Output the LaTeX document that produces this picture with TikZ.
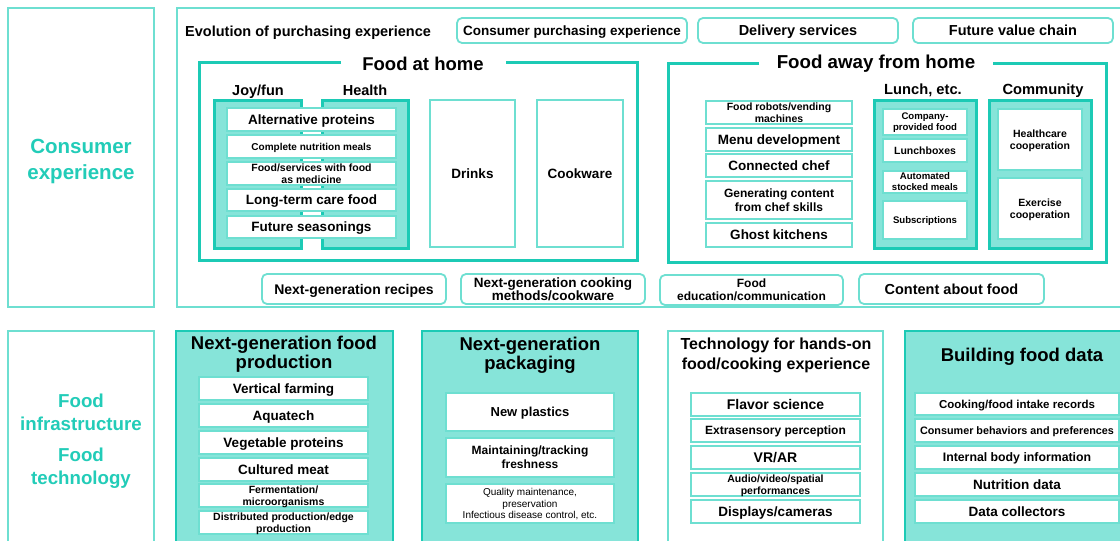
\documentclass[tikz,border=0pt]{standalone}
\usepackage{fontspec}
\setmainfont{Liberation Sans}
\definecolor{lt}{HTML}{6EDFD1}
\definecolor{dk}{HTML}{1CCAB5}
\definecolor{fl}{HTML}{86E4D9}
\definecolor{tx}{HTML}{22CCB8}
\newcommand\fz[2]{\fontsize{#1}{#2}\selectfont}
\newcommand\bx[9]{\node[#2,font=\fz{#3}{#4},minimum width={#7-#5},minimum height={#8-#6}] (#1) at ({(#5+#7)/2},{(#6+#8)/2}) {#9};}
\newcommand\lb[6]{\node[lbl,#2,font=\fz{#3}{#4}] (#1) at #5 {#6};}
\begin{document}
\bfseries
\begin{tikzpicture}[x=1pt,y=-1pt,
 wb/.style={draw=lt, line width=1.3pt, fill=white, inner sep=0pt, align=center, text depth=0pt},
 rb/.style={draw=lt, line width=1.8pt, rounded corners=5pt, fill=white, inner sep=0pt, align=center, text depth=0pt},
 pnl/.style={draw=dk, line width=3pt, fill=fl},
 bpnl/.style={draw=dk, line width=2.2pt, fill=fl},
 frm/.style={draw=dk, line width=3pt},
 outer/.style={draw=lt, line width=1.3pt},
 lbl/.style={inner sep=0pt, align=center, text depth=0pt},
]
\useasboundingbox (0,0) rectangle (1120,541);
\fill[white] (0,0) rectangle (1120,541);

% ---------- Consumer experience row ----------
\draw[outer] (8,8) rectangle (154,307);
\lb{ce}{text=tx}{20.5}{26}{(81,159)}{Consumer\\experience}
\draw[outer] (177,8) rectangle (1130,307);

\lb{evo}{anchor=west}{14.5}{16}{(185,31)}{Evolution of purchasing experience}
\bx{cpe}{rb}{13.5}{15}{457}{18}{687}{43}{Consumer purchasing experience}
\bx{del}{rb}{14.5}{16}{698}{18}{898}{43}{Delivery services}
\bx{fvc}{rb}{14.5}{16}{913}{18}{1113}{43}{Future value chain}

% Food at home
\lb{fah}{}{18.5}{20}{(423,64)}{Food at home}
\draw[frm] (341,62) -- (199,62) -- (199,260) -- (637,260) -- (637,62) -- (506,62);
\lb{joy}{}{14.5}{16}{(258,90)}{Joy/fun}
\lb{hea}{}{14.5}{16}{(365,90)}{Health}
\draw[pnl] (214,100) rectangle (301,248);
\draw[pnl] (322,100) rectangle (408,248);
\bx{ap}{wb}{13.5}{15}{227}{108}{396}{131}{Alternative proteins}
\bx{cnm}{wb}{10}{11}{227}{135}{396}{158}{Complete nutrition meals}
\bx{fsm}{wb}{10.5}{12}{227}{162}{396}{185}{Food/services with food\\as medicine}
\bx{ltc}{wb}{13.5}{15}{227}{189}{396}{211}{Long-term care food}
\bx{fse}{wb}{13.5}{15}{227}{216}{396}{238}{Future seasonings}
\bx{dr}{wb}{13.5}{15}{430}{100}{515}{247}{Drinks}
\bx{ck}{wb}{13.5}{15}{537}{100}{623}{247}{Cookware}

% Food away from home
\lb{faw}{}{18.7}{20}{(876,62)}{Food away from home}
\draw[frm] (759,63) -- (668,63) -- (668,262) -- (1106,262) -- (1106,63) -- (993,63);
\bx{frv}{wb}{10.5}{11.5}{706}{101}{852}{124}{Food robots/vending\\machines}
\bx{md}{wb}{13.5}{15}{706}{128}{852}{151}{Menu development}
\bx{cch}{wb}{13.5}{15}{706}{154}{852}{177}{Connected chef}
\bx{gcs}{wb}{12}{14}{706}{181}{852}{219}{Generating content\\from chef skills}
\bx{gk}{wb}{13.5}{15}{706}{223}{852}{247}{Ghost kitchens}

\lb{lun}{}{14.7}{16}{(923,89)}{Lunch, etc.}
\draw[pnl] (874,100) rectangle (976,248);
\bx{cpf}{wb}{9.6}{11}{883}{109}{967}{135}{Company-\\provided food}
\bx{lbx}{wb}{10.5}{12}{883}{139}{967}{162}{Lunchboxes}
\bx{asm}{wb}{9.6}{11}{883}{171}{967}{193}{Automated\\stocked meals}
\bx{sub}{wb}{9.6}{11}{883}{201}{967}{239}{Subscriptions}

\lb{com}{}{14.7}{16}{(1043,89)}{Community}
\draw[pnl] (989,100) rectangle (1091,248);
\bx{hc}{wb}{10.5}{12.5}{998}{109}{1082}{170}{Healthcare\\cooperation}
\bx{ec}{wb}{10.5}{12.5}{998}{178}{1082}{239}{Exercise\\cooperation}

% bottom rounded boxes
\bx{ngr}{rb}{14}{15}{262}{274}{446}{304}{Next-generation recipes}
\bx{ngc}{rb}{13.5}{13}{461}{274}{645}{304}{Next-generation cooking\\methods/cookware}
\bx{fec}{rb}{12}{13}{660}{275}{843}{305}{Food\\education/communication}
\bx{caf}{rb}{14.5}{16}{859}{274}{1044}{304}{Content about food}

% ---------- Food infrastructure row ----------
\draw[outer] (8,331) rectangle (154,560);
\lb{fin}{text=tx}{18.7}{23}{(81,412.5)}{Food\\infrastructure}
\lb{fte}{text=tx}{18.7}{23}{(81,466.5)}{Food\\technology}

% production
\draw[bpnl] (176,331) rectangle (393,560);
\lb{ngp}{}{18.5}{19}{(284,352.5)}{Next-generation food\\production}
\bx{vf}{wb}{13.5}{15}{199}{377}{368}{400}{Vertical farming}
\bx{aq}{wb}{13.5}{15}{199}{404}{368}{427}{Aquatech}
\bx{vp}{wb}{13.5}{15}{199}{431}{368}{454}{Vegetable proteins}
\bx{cm}{wb}{13.5}{15}{199}{458}{368}{481}{Cultured meat}
\bx{fm}{wb}{10.5}{11.5}{199}{484}{368}{507}{Fermentation/\\microorganisms}
\bx{dp}{wb}{10.5}{11.5}{199}{511}{368}{534}{Distributed production/edge\\production}

% packaging
\draw[bpnl] (422,331) rectangle (638,560);
\lb{ngk}{}{18.5}{19}{(530,353.5)}{Next-generation\\packaging}
\bx{np}{wb}{13}{15}{446}{393}{614}{431}{New plastics}
\bx{mtf}{wb}{12}{14}{446}{438}{614}{477}{Maintaining/tracking\\freshness}
\bx{qm}{wb}{10}{11.5}{446}{484}{614}{523}{\mdseries Quality maintenance,\\\mdseries preservation\\\mdseries Infectious disease control, etc.}

% technology
\draw[outer] (668,331) rectangle (883,560);
\lb{tho}{}{16}{20}{(776,354)}{Technology for hands-on\\food/cooking experience}
\bx{fsc}{wb}{14}{15}{691}{393}{860}{416}{Flavor science}
\bx{ep}{wb}{12}{14}{691}{419}{860}{442}{Extrasensory perception}
\bx{vr}{wb}{14}{15}{691}{446}{860}{469}{VR/AR}
\bx{avs}{wb}{10.5}{11.5}{691}{473}{860}{496}{Audio/video/spatial\\performances}
\bx{dc}{wb}{13.5}{15}{691}{500}{860}{523}{Displays/cameras}

% food data
\draw[bpnl] (905,331) rectangle (1130,560);
\lb{bfd}{}{18.5}{20}{(1022,355)}{Building food data}
\bx{cfi}{wb}{11.5}{13}{915}{393}{1119}{415}{Cooking/food intake records}
\bx{cbp}{wb}{10.8}{12}{915}{419}{1119}{442}{Consumer behaviors and preferences}
\bx{ibi}{wb}{12.3}{14}{915}{446}{1119}{469}{Internal body information}
\bx{nd}{wb}{13.5}{15}{915}{473}{1119}{496}{Nutrition data}
\bx{dcl}{wb}{13.5}{15}{915}{500}{1119}{523}{Data collectors}
\end{tikzpicture}
\end{document}
